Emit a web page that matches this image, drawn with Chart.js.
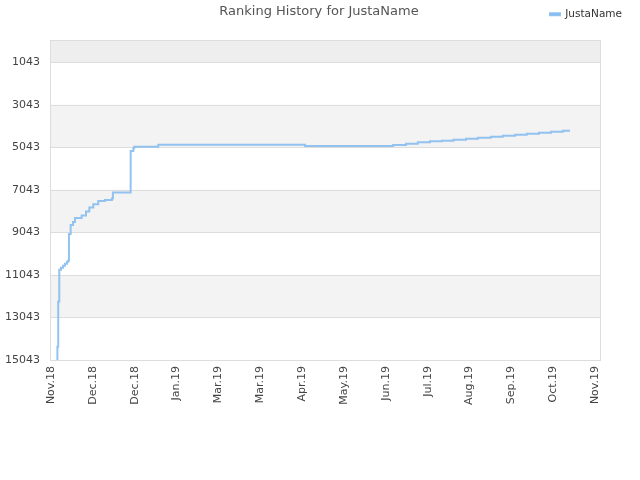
<!DOCTYPE html>
<html>
<head>
<meta charset="utf-8">
<script src="https://cdn.jsdelivr.net/npm/chart.js@4"></script>
<style>
html,body{margin:0;padding:0;background:#fff;}
#wrap{width:640px;height:480px;position:relative;}
</style>
</head>
<body>
<div id="wrap"><canvas id="c" width="640" height="480"></canvas></div>
<script>
// Days since 1 Nov 2018 at which the rank changed
const stepDays = [4.5, 4.6, 5.2, 5.95, 7.2, 8.6, 10.0, 11.5, 12.4, 12.9, 14.1, 15.8, 17.2, 22.0, 25.1, 27.5, 30.3, 33.9, 38.7, 43.7, 44.4, 57.1, 59.0, 59.7, 76.9, 182.1, 245.2, 254.5, 262.9, 271.7, 280.1, 288.4, 297.5, 305.9, 315.2, 323.8, 332.6, 341.0, 349.8, 358.4, 366.8, 372.0];
const ranks = [15043, 14423, 12294, 10805, 10711, 10617, 10523, 10430, 10369, 9114, 8691, 8550, 8362, 8254, 8066, 7878, 7719, 7564, 7517, 7446, 7164, 5215, 5088, 5013, 4919, 4980, 4933, 4872, 4806, 4759, 4731, 4684, 4637, 4590, 4543, 4496, 4449, 4402, 4355, 4308, 4261, 4261];
const yTicks = [1043, 3043, 5043, 7043, 9043, 11043, 13043, 15043];
const xTickDays = [0, 30, 60, 90, 120, 150, 180, 210, 240, 270, 300, 330, 360, 390];
const xTickLabels = ["Nov.18", "Dec.18", "Dec.18", "Jan.19", "Mar.19", "Mar.19", "Apr.19", "May.19", "Jun.19", "Jul.19", "Aug.19", "Sep.19", "Oct.19", "Nov.19"];
const seriesName = "JustaName";
const chartTitle = "Ranking History for JustaName";

const points = stepDays.map((d, i) => ({x: d, y: ranks[i]}));

const bandsPlugin = {
  id: 'bands',
  beforeDatasetsDraw(chart) {
    const {ctx, chartArea: a, scales: {y}} = chart;
    ctx.save();
    const edges = [0].concat(yTicks);
    for (let i = 0; i < edges.length - 1; i++) {
      const y0 = y.getPixelForValue(edges[i]);
      const y1 = y.getPixelForValue(edges[i + 1]);
      let col = null;
      if (i === 0) col = '#eeeeee';
      else if (i % 2 === 0) col = '#f3f3f3';
      if (col) { ctx.fillStyle = col; ctx.fillRect(a.left, y0, a.right - a.left, y1 - y0); }
    }
    ctx.strokeStyle = '#dddddd';
    ctx.lineWidth = 1;
    yTicks.forEach(v => {
      const p = Math.round(y.getPixelForValue(v)) + 0.5;
      ctx.beginPath(); ctx.moveTo(a.left, p); ctx.lineTo(a.right, p); ctx.stroke();
    });
    ctx.strokeRect(Math.round(a.left) + 0.5, Math.round(a.top) + 0.5, Math.round(a.right - a.left), Math.round(a.bottom - a.top));
    ctx.restore();
  }
};

const titlePlugin = {
  id: 'customTitle',
  afterDraw(chart) {
    const ctx = chart.ctx;
    ctx.save();
    ctx.font = '13px "DejaVu Sans", sans-serif';
    ctx.fillStyle = '#555555';
    ctx.textAlign = 'center';
    ctx.textBaseline = 'middle';
    ctx.fillText(chartTitle, 319, 12);
    ctx.restore();
  }
};

const legendHeightPlugin = {
  id: 'legendHeight',
  beforeLayout(chart) {
    const lg = chart.legend;
    if (lg && !lg._patched) {
      const orig = lg.fit;
      lg.fit = function () { orig.call(this); this.height = 40; };
      lg._patched = true;
    }
  }
};

new Chart(document.getElementById('c'), {
  type: 'line',
  data: {
    datasets: [{
      label: seriesName,
      data: points,
      stepped: 'before',
      borderColor: 'rgba(135,188,240,0.9)',
      backgroundColor: 'rgba(135,188,240,0.9)',
      borderWidth: 2,
      pointRadius: 0,
      fill: false
    }]
  },
  options: {
    responsive: false,
    animation: false,
    layout: {padding: {top: 0, right: 9, left: 0, bottom: 0}},
    plugins: {
      title: {display: false},
      tooltip: {enabled: false},
      legend: {
        display: true,
        position: 'top',
        align: 'end',
        labels: {
          boxWidth: 10,
          boxHeight: 2,
          color: '#333333',
          font: {family: '"DejaVu Sans", sans-serif', size: 10.5},
          padding: 9
        }
      }
    },
    scales: {
      x: {
        type: 'linear',
        min: -0.7,
        max: 393.5,
        afterBuildTicks(scale) { scale.ticks = xTickDays.map(v => ({value: v})); },
        afterFit(scale) { scale.height = 120; },
        grid: {display: false, drawTicks: false},
        border: {display: false},
        ticks: {
          autoSkip: false,
          minRotation: 90,
          maxRotation: 90,
          padding: 6,
          color: '#444444',
          font: {family: '"DejaVu Sans", sans-serif', size: 11},
          callback: (v) => { const i = xTickDays.indexOf(v); return i >= 0 ? xTickLabels[i] : ''; }
        }
      },
      y: {
        type: 'linear',
        reverse: true,
        min: 0,
        max: 15043,
        afterBuildTicks(scale) { scale.ticks = yTicks.map(v => ({value: v})); },
        afterFit(scale) { scale.width = 50; },
        grid: {display: false, drawTicks: false},
        border: {display: false},
        ticks: {
          autoSkip: false,
          padding: 10,
          color: '#444444',
          font: {family: '"DejaVu Sans", sans-serif', size: 11},
          callback: (v) => String(v)
        }
      },
      yRightSpace: {
        type: 'linear',
        position: 'right',
        display: true,
        afterFit(scale) { scale.width = 31; },
        grid: {display: false, drawTicks: false},
        border: {display: false},
        ticks: {display: false}
      }
    }
  },
  plugins: [bandsPlugin, titlePlugin, legendHeightPlugin]
});
</script>
</body>
</html>
